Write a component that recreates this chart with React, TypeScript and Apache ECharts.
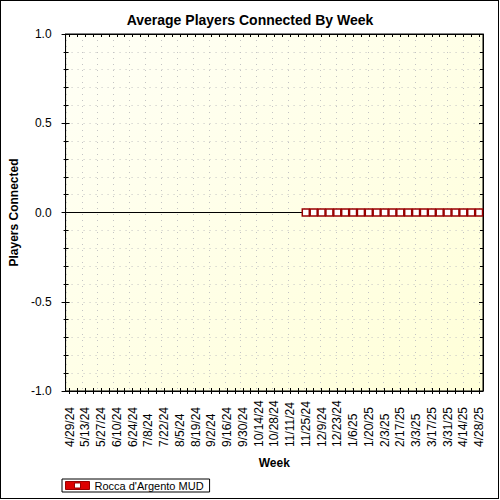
import React, { useEffect, useRef } from "react";
import * as echarts from "echarts";

const TITLE = "Average Players Connected By Week";
const SERIES_NAME = "Rocca d'Argento MUD";

const weeks: string[] = [
  "4/29/24", "5/6/24", "5/13/24", "5/20/24", "5/27/24", "6/3/24", "6/10/24", "6/17/24",
  "6/24/24", "7/1/24", "7/8/24", "7/15/24", "7/22/24", "7/29/24", "8/5/24", "8/12/24",
  "8/19/24", "8/26/24", "9/2/24", "9/9/24", "9/16/24", "9/23/24", "9/30/24", "10/7/24",
  "10/14/24", "10/21/24", "10/28/24", "11/4/24", "11/11/24", "11/18/24", "11/25/24", "12/2/24",
  "12/9/24", "12/16/24", "12/23/24", "12/30/24", "1/6/25", "1/13/25", "1/20/25", "1/27/25",
  "2/3/25", "2/10/25", "2/17/25", "2/24/25", "3/3/25", "3/10/25", "3/17/25", "3/24/25",
  "3/31/25", "4/7/25", "4/14/25", "4/21/25", "4/28/25",
];

const players: (number | null)[] = [
  null, null, null, null, null, null, null, null,
  null, null, null, null, null, null, null, null,
  null, null, null, null, null, null, null, null,
  null, null, null, null, null, null, 0, 0,
  0, 0, 0, 0, 0, 0, 0, 0,
  0, 0, 0, 0, 0, 0, 0, 0,
  0, 0, 0, 0, 0,
];

const yMin = -1;
const yMax = 1;
const yStep = 0.5;

const FONT = "'Liberation Sans', Arial, sans-serif";

export default function App() {
  const ref = useRef<HTMLDivElement>(null);

  useEffect(() => {
    if (!ref.current) return;
    const chart = echarts.init(ref.current, undefined, { renderer: "svg" });
    const L = 62;
    const R = 17;
    const T = 34;
    const B = 109;
    const half = (500 - L - R) / weeks.length / 2;

    const dotted = { color: "#c4c4c4", type: [1, 5] as number[], width: 1 };

    chart.setOption({
      animation: false,
      backgroundColor: "#ffffff",
      textStyle: { fontFamily: FONT },
      title: {
        text: TITLE,
        left: "center",
        top: 8,
        textStyle: { fontSize: 14, fontWeight: "bold", color: "#000", fontFamily: FONT },
      },
      legend: {
        left: 62,
        top: 479,
        orient: "horizontal",
        padding: [1, 6, 1, 3],
        borderColor: "#000",
        borderWidth: 1,
        backgroundColor: "#fff",
        itemWidth: 24,
        itemHeight: 8,
        textStyle: { fontSize: 11, color: "#000", fontFamily: FONT },
        data: [
          {
            name: SERIES_NAME,
            icon: "path://M0,0H24V8H0Z M9,1.5V6.5H15V1.5Z",
            itemStyle: { color: "#dd0000", borderColor: "#990000", borderWidth: 1 },
          },
        ],
      },
      grid: [
        {
          left: L,
          right: R,
          top: T,
          bottom: B,
          show: true,
          borderColor: "#000",
          borderWidth: 1,
          backgroundColor: new echarts.graphic.LinearGradient(0, 0, 1, 1, [
            { offset: 0, color: "#fffff6" },
            { offset: 1, color: "#ffffd8" },
          ]),
          z: -1,
        },
        {
          left: L + half,
          right: R + half,
          top: T,
          bottom: B,
          show: false,
        },
      ],
      xAxis: [
        {
          type: "category",
          gridIndex: 0,
          data: weeks,
          boundaryGap: true,
          position: "bottom",
          name: "Week",
          nameLocation: "middle",
          nameGap: 66,
          nameTextStyle: { fontSize: 12, fontWeight: "bold", color: "#000", fontFamily: FONT },
          axisLine: { show: true, onZero: false, lineStyle: { color: "#000", width: 1 } },
          axisTick: { show: true, inside: true, length: 3, interval: 0, alignWithLabel: true, lineStyle: { color: "#000" } },
          axisLabel: {
            interval: 1,
            rotate: 90,
            align: "left",
            verticalAlign: "middle",
            margin: 56,
            fontSize: 12,
            color: "#000",
            fontFamily: FONT,
          },
          splitLine: { show: false },
        },
        {
          type: "category",
          gridIndex: 0,
          data: weeks,
          boundaryGap: true,
          position: "bottom",
          axisLine: { show: false, onZero: false },
          axisTick: { show: true, inside: false, length: 3, interval: 0, alignWithLabel: true, lineStyle: { color: "#000" } },
          axisLabel: { show: false },
          splitLine: { show: false },
        },
        {
          type: "category",
          gridIndex: 0,
          data: weeks,
          boundaryGap: true,
          position: "top",
          axisLine: { show: true, onZero: false, lineStyle: { color: "#000", width: 1 } },
          axisTick: { show: true, inside: true, length: 3, interval: 0, alignWithLabel: true, lineStyle: { color: "#000" } },
          axisLabel: { show: false },
          splitLine: { show: false },
        },
        {
          type: "value",
          gridIndex: 1,
          min: 0,
          max: weeks.length - 1,
          interval: 2,
          axisLine: { show: false, onZero: false },
          axisTick: { show: false },
          axisLabel: { show: false },
          splitLine: { show: true, lineStyle: dotted },
        },
      ],
      yAxis: [
        {
          type: "value",
          gridIndex: 0,
          min: yMin,
          max: yMax,
          interval: yStep,
          position: "left",
          name: "Players Connected",
          nameLocation: "middle",
          nameGap: 40,
          nameTextStyle: { fontSize: 12, fontWeight: "bold", color: "#000", fontFamily: FONT },
          axisLine: { show: true, onZero: false, lineStyle: { color: "#000", width: 1 } },
          axisTick: { show: true, inside: true, length: 4, lineStyle: { color: "#000" } },
          minorTick: { show: true, splitNumber: 5, length: 3, lineStyle: { color: "#000" } },
          axisLabel: {
            margin: 14,
            fontSize: 12,
            color: "#000",
            fontFamily: FONT,
            formatter: (v: number) => v.toFixed(1),
          },
          splitLine: { show: true, lineStyle: dotted },
          minorSplitLine: { show: true, lineStyle: dotted },
        },
        {
          type: "value",
          gridIndex: 0,
          min: yMin,
          max: yMax,
          interval: yStep,
          position: "left",
          axisLine: { show: false, onZero: false },
          axisTick: { show: true, inside: false, length: 4, lineStyle: { color: "#000" } },
          minorTick: { show: true, splitNumber: 5, length: 2, lineStyle: { color: "#000" } },
          axisLabel: { show: false },
          splitLine: { show: false },
        },
        {
          type: "value",
          gridIndex: 0,
          min: yMin,
          max: yMax,
          interval: yStep,
          position: "right",
          axisLine: { show: true, onZero: false, lineStyle: { color: "#000", width: 1 } },
          axisTick: { show: true, inside: true, length: 4, lineStyle: { color: "#000" } },
          minorTick: { show: true, splitNumber: 5, length: 3, lineStyle: { color: "#000" } },
          axisLabel: { show: false },
          splitLine: { show: false },
        },
        {
          type: "value",
          gridIndex: 1,
          min: yMin,
          max: yMax,
          show: false,
          splitLine: { show: false },
        },
      ],
      series: [
        {
          name: SERIES_NAME,
          type: "line",
          xAxisIndex: 0,
          yAxisIndex: 0,
          data: players,
          connectNulls: false,
          symbol: "rect",
          symbolSize: 7,
          showSymbol: true,
          showAllSymbol: true,
          itemStyle: { color: "#ffffff", borderColor: "#990000", borderWidth: 1.5 },
          lineStyle: { color: "#990000", width: 2 },
          emphasis: { disabled: true },
          markLine: {
            silent: true,
            symbol: "none",
            label: { show: false },
            lineStyle: { color: "#000", type: "solid", width: 1 },
            data: [{ yAxis: 0 }],
            z: 1,
          },
          z: 5,
        },
      ],
    });

    return () => chart.dispose();
  }, []);

  return (
    <div style={{ position: "absolute", left: 0, top: 0, width: 500, height: 500 }}>
      <div ref={ref} style={{ position: "absolute", left: 0, top: 0, width: 500, height: 500 }} />
      <div
        style={{
          position: "absolute",
          left: 0,
          top: 0,
          width: 499,
          height: 499,
          border: "1px solid #000",
          boxSizing: "border-box",
          pointerEvents: "none",
        }}
      />
    </div>
  );
}
